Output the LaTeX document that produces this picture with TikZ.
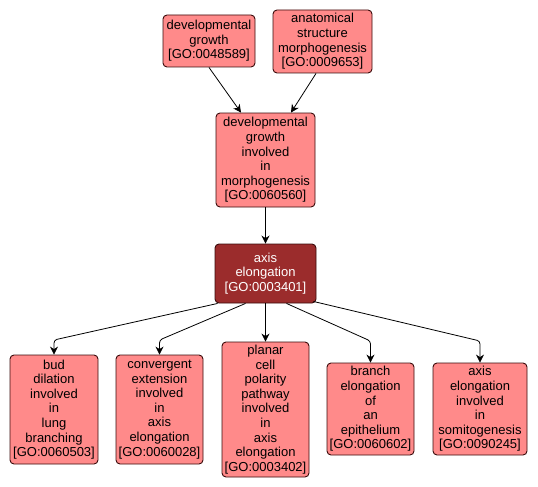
\documentclass[tikz,border=0pt]{standalone}
\usepackage{fontspec}
\setmainfont{Liberation Sans}
\usetikzlibrary{arrows.meta}
\definecolor{goterm}{HTML}{FF8A8A}
\definecolor{gomain}{HTML}{9B2C2C}
\definecolor{goline}{HTML}{3A0C0C}
\tikzset{
  term/.style={draw=goline, fill=goterm, line width=0.9pt, rounded corners=4pt,
    align=center, inner sep=0pt, font=\fontsize{13}{14.6}\selectfont},
  mainterm/.style={term, fill=gomain, text=white},
  edge/.style={line width=0.8pt, -{Stealth[length=8pt,width=8pt]}, rounded corners=3pt}
}
\begin{document}
\begin{tikzpicture}[x=1pt, y=-1pt]
	\useasboundingbox (0,0) rectangle (538,487);
	\node[term, minimum width=92pt, minimum height=52pt] (dg) at (209,41) {developmental\\growth\\{[GO:0048589]}};
	\node[term, minimum width=99pt, minimum height=63pt] (asm) at (322.5,41.5) {anatomical\\structure\\morphogenesis\\{[GO:0009653]}};
	\node[term, minimum width=99pt, minimum height=94pt] (dgm) at (265.5,160) {developmental\\growth\\involved\\in\\morphogenesis\\{[GO:0060560]}};
	\node[mainterm, minimum width=101pt, minimum height=59pt] (ax) at (265.5,273.5) {axis\\elongation\\{[GO:0003401]}};
	\node[term, minimum width=88pt, minimum height=109pt] (bud) at (54,409.5) {bud\\dilation\\involved\\in\\lung\\branching\\{[GO:0060503]}};
	\node[term, minimum width=87pt, minimum height=109pt] (conv) at (159.5,409.5) {convergent\\extension\\involved\\in\\axis\\elongation\\{[GO:0060028]}};
	\node[term, minimum width=87pt, minimum height=135pt] (pcp) at (265.5,409.5) {planar\\cell\\polarity\\pathway\\involved\\in\\axis\\elongation\\{[GO:0003402]}};
	\node[term, minimum width=87pt, minimum height=92pt] (br) at (370.5,409) {branch\\elongation\\of\\an\\epithelium\\{[GO:0060602]}};
	\node[term, minimum width=94pt, minimum height=92pt] (som) at (480,409) {axis\\elongation\\involved\\in\\somitogenesis\\{[GO:0090245]}};
	\draw[edge] (dg.south) -- ([xshift=-24.5pt]dgm.north);
	\draw[edge] ([xshift=-6.5pt]asm.south) -- ([xshift=25.5pt]dgm.north);
	\draw[edge] (dgm) -- (ax);
	\draw[edge] ([xshift=3pt]ax.south west) -- (54,340) -- (bud.north);
	\draw[edge] ([xshift=-20pt]ax.south) -- (159.5,340) -- (conv.north);
	\draw[edge] (ax) -- (pcp);
	\draw[edge] ([xshift=21pt]ax.south) -- (370.5,341) -- (br.north);
	\draw[edge] ([xshift=-3pt,yshift=2pt]ax.south east) -- (480,341) -- (som.north);
\end{tikzpicture}
\end{document}
